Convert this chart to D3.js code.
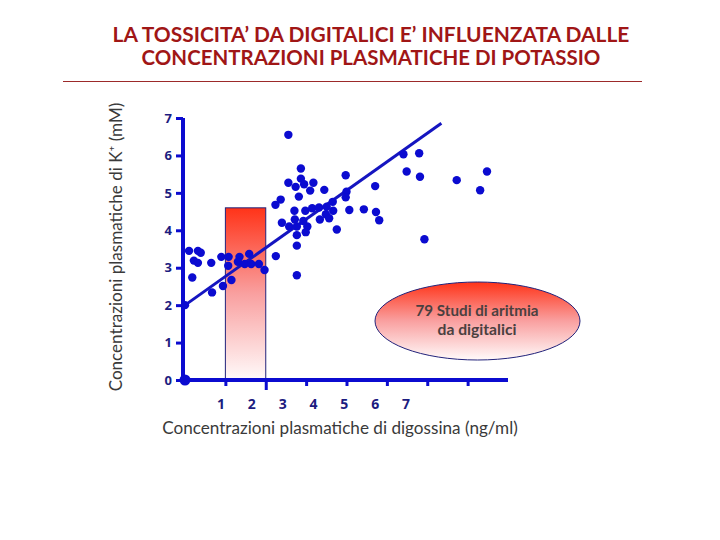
<!DOCTYPE html>
<html><head><meta charset="utf-8">
<script src="https://cdn.jsdelivr.net/npm/d3@7"></script>
<style>body{margin:0;background:#fff}svg{display:block}</style>
</head><body>
<script>
// ---- data ----
const titleLines = ["LA TOSSICITA\u2019 DA DIGITALICI E\u2019 INFLUENZATA DALLE", "CONCENTRAZIONI PLASMATICHE DI POTASSIO"];
const yTitle = "Concentrazioni plasmatiche di K\u207A (mM)";
const xTitle = "Concentrazioni plasmatiche di digossina (ng/ml)";
const yTicks = [0,1,2,3,4,5,6,7];
const xTicks = [1,2,3,4,5,6,7];
const xTickLabels = ["1","2","3","4","5","6","7"];
const noteLines = ["79 Studi di aritmia", "da digitalici"];
const band = {x0:1, x1:2, y0:0, y1:4.6};
const fitLine = [[0,2],[6.35,6.86]];
const digoxin = [0,0,0.10,0.32,0.39,0.22,0.32,0.65,0.18,0.90,1.08,1.07,1.35,1.59,1.31,1.48,1.64,1.83,1.97,1.15,0.94,0.67,
 2.56,2.87,2.56,2.87,2.74,2.95,3.18,3.10,3.45,3.98,2.82,2.37,2.24,4.71,4.00,3.98,3.66,2.71,2.98,3.15,3.32,3.51,3.67,3.49,3.57,3.34,4.07,4.43,4.73,4.81,3.76,2.72,2.40,2.58,2.77,3.03,2.93,2.77,2.99,2.77,2.25,2.77,
 5.41,5.80,5.49,5.82,6.73,7.48,7.31,5.93];
const potassium = [0,2,3.45,3.45,3.40,3.19,3.13,3.13,2.74,3.29,3.29,3.05,3.29,3.37,3.16,3.10,3.10,3.10,2.94,2.67,2.51,2.34,
 6.55,5.65,5.27,5.38,5.16,5.23,5.27,5.06,5.08,5.47,4.90,4.82,4.68,5.18,5.03,4.88,4.76,4.52,4.52,4.59,4.61,4.63,4.52,4.43,4.32,4.29,4.54,4.56,4.49,4.27,4.02,4.29,4.20,4.10,4.10,4.10,4.25,3.87,3.95,3.59,3.31,2.80,
 6.03,6.06,5.57,5.43,5.34,5.57,5.07,3.76];

// ---- drawing ----
const W=720,H=540;
const svg=d3.select("body").append("svg").attr("width",W).attr("height",H);
const defs=svg.append("defs");
function grad(id){
  const g=defs.append("linearGradient").attr("id",id).attr("x1",0).attr("y1",0).attr("x2",0).attr("y2",1);
  g.append("stop").attr("offset","0%").attr("stop-color","#ff3318");
  g.append("stop").attr("offset","50%").attr("stop-color","#f9a0a0");
  g.append("stop").attr("offset","100%").attr("stop-color","#fffafa");
}
grad("gRect"); grad("gEll");

function fit(sel,target){
  let fs=parseFloat(sel.attr("font-size"));
  const w=sel.node().getComputedTextLength();
  sel.attr("font-size",(fs*target/w).toFixed(2));
}

const x=d3.scaleLinear().domain([0,8]).range([185,508]);
const y=d3.scaleLinear().domain([0,7]).range([380,118]);
const xLab=d3.scaleLinear().domain([1,7]).range([221,406]);

// title
const tf="Lato, 'Open Sans', sans-serif";
const tBase=[42,65], tWidth=[517,459];
titleLines.forEach((t,i)=>{
  const s=svg.append("text").attr("x",371).attr("y",tBase[i]).attr("text-anchor","middle")
   .attr("font-family",tf).attr("font-weight","bold").attr("font-size",20).attr("fill","#a01616").text(t);
  fit(s,tWidth[i]);
});
svg.append("line").attr("x1",63).attr("x2",642).attr("y1",81.5).attr("y2",81.5).attr("stroke","#9c2a2a").attr("stroke-width",1);

// band
svg.append("rect").attr("x",x(band.x0)).attr("y",y(band.y1))
 .attr("width",x(band.x1)-x(band.x0)).attr("height",y(band.y0)-y(band.y1))
 .attr("fill","url(#gRect)").attr("stroke","#22227a").attr("stroke-width",1);

// axes
const blue="#0b0bd0";
const yAx=svg.append("g").attr("transform","translate(183,0)").call(d3.axisLeft(y).tickValues(yTicks).tickFormat(d3.format("d")).tickSize(7).tickPadding(4).tickSizeOuter(0));
yAx.select(".domain").attr("stroke",blue).attr("stroke-width",4).attr("d",`M0,${y(0)+2}V${y(7)}`);
yAx.selectAll(".tick line").attr("stroke",blue).attr("stroke-width",3);
yAx.selectAll(".tick text").attr("fill","#1c1c80").attr("font-family","'Open Sans', sans-serif").attr("font-weight","bold").attr("font-size",13);

const xAx=svg.append("g").attr("transform","translate(0,380)").call(d3.axisBottom(x).tickValues(xTicks).tickSize(6).tickSizeOuter(0).tickFormat(""));
xAx.select(".domain").attr("stroke",blue).attr("stroke-width",4).attr("d",`M${x(0)-2},0H${x(8)}`);
xAx.selectAll(".tick line").attr("stroke",blue).attr("stroke-width",3).attr("y2",d=>d===2?10:6);

svg.append("g").selectAll("text").data(xTicks).join("text")
 .attr("x",d=>xLab(d)).attr("y",409).attr("text-anchor","middle")
 .attr("fill","#1c1c80").attr("font-family","'Open Sans', sans-serif").attr("font-weight","bold").attr("font-size",14)
 .text((d,i)=>xTickLabels[i]);

// fit line
svg.append("line").attr("x1",x(fitLine[0][0])).attr("y1",y(fitLine[0][1])).attr("x2",x(fitLine[1][0])).attr("y2",y(fitLine[1][1]))
 .attr("stroke","#1515c0").attr("stroke-width",3);

// dots
svg.append("g").selectAll("circle").data(digoxin.map((d,i)=>[d,potassium[i]])).join("circle")
 .attr("cx",d=>x(d[0])).attr("cy",d=>y(d[1])).attr("r",(d)=>d[0]===0&&d[1]===0?5.5:4.2).attr("fill",blue);

// ellipse note
svg.append("ellipse").attr("cx",477.5).attr("cy",321).attr("rx",102.5).attr("ry",39)
 .attr("fill","url(#gEll)").attr("stroke","#22227a").attr("stroke-width",1);
const nB=[316,335], nW=[123,79];
noteLines.forEach((t,i)=>{
  const s=svg.append("text").attr("x",477).attr("y",nB[i]).attr("text-anchor","middle")
   .attr("font-family",tf).attr("font-weight","bold").attr("font-size",13).attr("fill","#4a4040").text(t);
  fit(s,nW[i]);
});

// axis titles
const xt=svg.append("text").attr("x",340).attr("y",434).attr("text-anchor","middle")
 .attr("font-family",tf).attr("font-size",15).attr("fill","#3a3a3a").text(xTitle);
fit(xt,356);
const yt=svg.append("text").attr("transform","translate(122,247) rotate(-90)").attr("text-anchor","middle")
 .attr("font-family",tf).attr("font-size",14).attr("fill","#3a3a3a").text(yTitle);
fit(yt,289);
</script>
</body></html>
